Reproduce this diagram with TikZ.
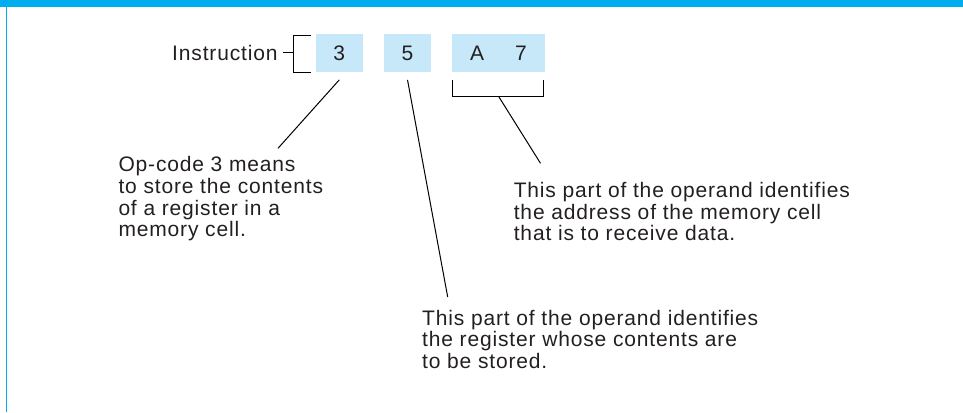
\documentclass[tikz,border=0pt]{standalone}
\usepackage{fontspec}
\setmainfont[LetterSpace=4]{Liberation Sans}
\definecolor{framecyan}{HTML}{00AEEF}
\definecolor{cellblue}{HTML}{C6E8F8}
\definecolor{inkgrey}{HTML}{231F20}
\begin{document}
\begin{tikzpicture}[x=1pt, y=-1pt, line width=1pt,
  font=\fontsize{21}{21.7}\selectfont, text=inkgrey,
  cell/.style={fill=cellblue, minimum height=37.7pt, inner sep=0pt},
  note/.style={align=left, anchor=base west, inner sep=0pt}]
  \useasboundingbox (0,0) rectangle (963,412);
  \fill[framecyan] (0,0) rectangle (963,7);
  \draw[framecyan, line width=1.5pt] (6.5,7) -- (6.5,412);
  % instruction cells
  \node[cell, minimum width=46.7pt] (opc) at (339.3,52.9) {3};
  \node[cell, minimum width=47pt] (reg) at (407.5,52.9) {5};
  \node[cell, minimum width=93pt] (addr) at (498.5,52.9) {A\hspace{31pt}7};
  \node[anchor=base east, inner sep=0pt] (instr) at (278,60) {Instruction};
  \draw ([xshift=5pt]instr.east) -- ++(11,0);
  \draw ([xshift=-4.3pt,yshift=-1.7pt]opc.north west) -- ++(-17.7,0)
    |- ([xshift=-4.3pt,yshift=-0.6pt]opc.south west);
  % notes (anchored at the last baseline)
  \node[note] (opnote) at (118,236.8) {Op-code 3 means\\to store the contents\\of a register in a\\memory cell.};
  \node[note] (addrnote) at (513.3,240.7) {This part of the operand identifies\\the address of the memory cell\\that is to receive data.};
  \node[note] (regnote) at (421.7,368.4) {This part of the operand identifies\\the register whose contents are\\to be stored.};
  % pointers
  \draw ([yshift=-7.6pt]opc.south) -- ([xshift=160pt,yshift=88.5pt]opnote.base west);
  \draw ([yshift=-7.6pt]reg.south) -- ([xshift=26pt,yshift=71.4pt]regnote.base west);
  \draw ([xshift=1pt,yshift=-7.6pt]addr.south west) -- ++(0,16.4)
    -| ([xshift=-2.3pt,yshift=-7.6pt]addr.south east);
  \draw ([yshift=-24pt]addr.south) -- ([xshift=27.2pt,yshift=77.4pt]addrnote.base west);
\end{tikzpicture}
\end{document}
